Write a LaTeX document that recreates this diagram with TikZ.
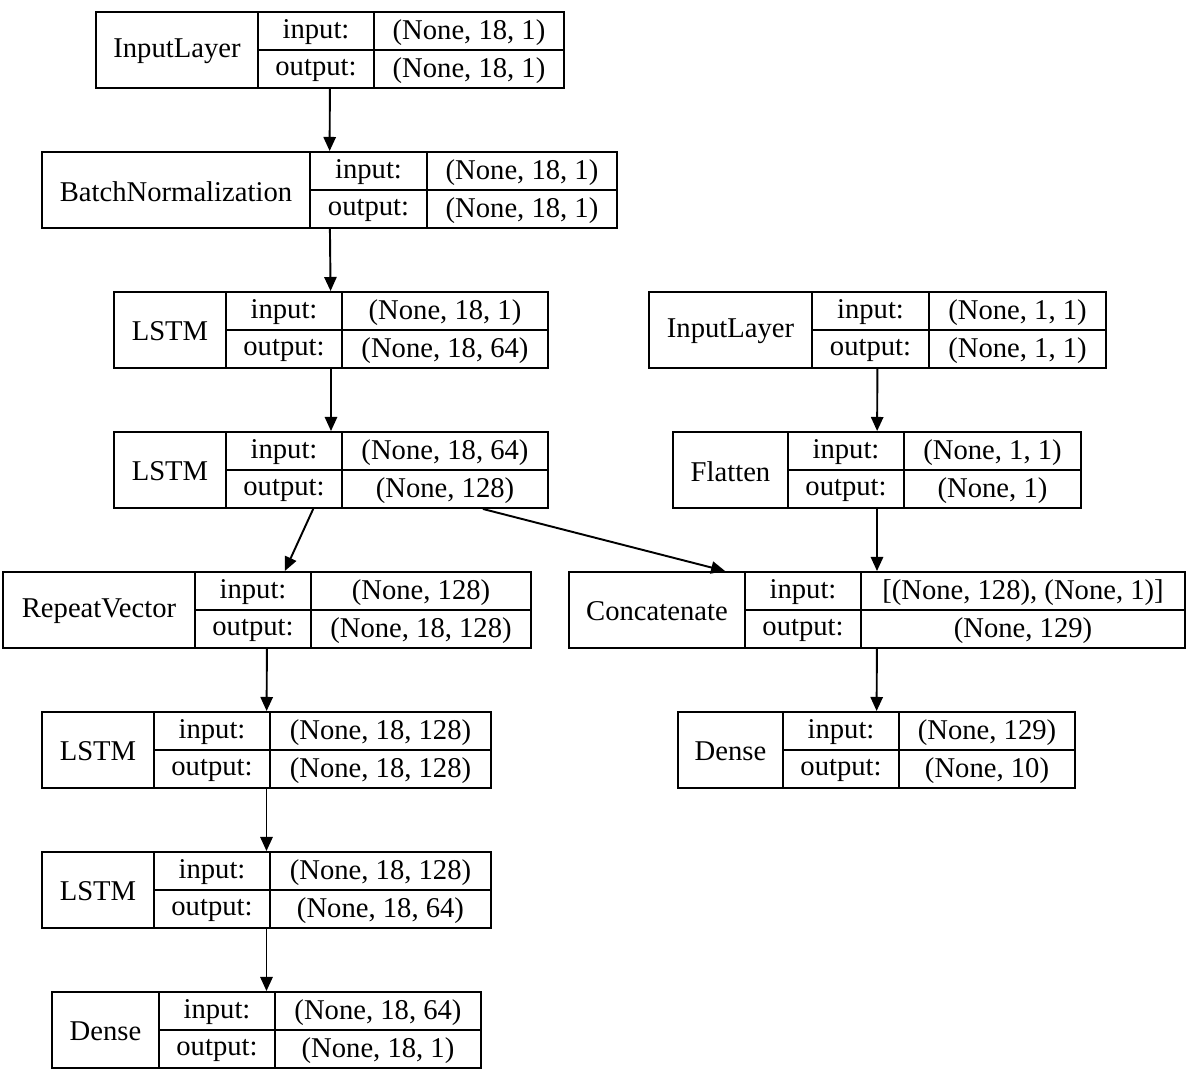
\documentclass[tikz,border=0pt]{standalone}
\usepackage{fontspec}
\setmainfont{Liberation Serif}
\usepackage{tikz}
\usetikzlibrary{arrows.meta, positioning, calc}

% one keras layer: id, left, top, split1, split2, right, title, input, output
\newcommand{\kerasbox}[9]{
  \node[layerbox, minimum width={(#6-#2)*0.02cm}] (#1) at ({(#2+#6)/2},{#3+38}) {};
  \draw[cellline] (#4,#3) -- (#4,{#3+76});
  \draw[cellline] (#5,#3) -- (#5,{#3+76});
  \draw[cellline] (#4,{#3+38}) -- (#6,{#3+38});
  \node[celltext] (#1-title) at ({(#2+#4)/2},{#3+39.5}) {#7};
  \node[celltext] (#1-inlabel) at ({(#4+#5)/2},{#3+20.5}) {input:};
  \node[celltext] (#1-outlabel) at ({(#4+#5)/2},{#3+58.5}) {output:};
  \node[celltext] (#1-in) at ({(#5+#6)/2},{#3+20.5}) {#8};
  \node[celltext] (#1-out) at ({(#5+#6)/2},{#3+58.5}) {#9};
}

\begin{document}
\begin{tikzpicture}[x=0.02cm, y=-0.02cm]

  \tikzset{
    layerbox/.style={
        shape=rectangle,
        draw=black,
        line width=1.1pt,
        fill=white,
        minimum height=1.52cm,
        inner sep=0pt
      },
    cellline/.style={line width=1.1pt},
    celltext/.style={font=\fontsize{16.3pt}{19pt}\selectfont, inner sep=0pt},
    flow/.style={line width=1.1pt, -{Triangle[length=8pt, width=7pt]}}
  }

  \fill[white] (0,0) rectangle (1204,1071);

  % left branch
  \kerasbox{inputA}{96}{12}{258}{374}{564}{InputLayer}{(None, 18, 1)}{(None, 18, 1)}
  \kerasbox{bnorm}{42}{152}{310}{427}{617}{BatchNormalization}{(None, 18, 1)}{(None, 18, 1)}
  \kerasbox{lstmA}{114}{292}{226}{342}{548}{LSTM}{(None, 18, 1)}{(None, 18, 64)}
  \kerasbox{lstmB}{114}{432}{226}{342}{548}{LSTM}{(None, 18, 64)}{(None, 128)}
  \kerasbox{repvec}{3}{572}{195}{311}{531}{RepeatVector}{(None, 128)}{(None, 18, 128)}
  \kerasbox{lstmC}{42}{712}{154}{270}{491}{LSTM}{(None, 18, 128)}{(None, 18, 128)}
  \kerasbox{lstmD}{42}{852}{154}{270}{491}{LSTM}{(None, 18, 128)}{(None, 18, 64)}
  \kerasbox{denseB}{52}{992}{159}{275}{481}{Dense}{(None, 18, 64)}{(None, 18, 1)}

  % right branch
  \kerasbox{inputB}{649}{292}{812}{929}{1106}{InputLayer}{(None, 1, 1)}{(None, 1, 1)}
  \kerasbox{flatten}{673}{432}{788}{904}{1081}{Flatten}{(None, 1, 1)}{(None, 1)}
  \kerasbox{concat}{569}{572}{745}{861}{1185}{Concatenate}{[(None, 128), (None, 1)]}{(None, 129)}
  \kerasbox{denseA}{678}{712}{783}{899}{1075}{Dense}{(None, 129)}{(None, 10)}

  \draw[flow] (inputA) -- (bnorm);
  \draw[flow] (bnorm) -- (lstmA);
  \draw[flow] (lstmA) -- (lstmB);
  \draw[flow] (lstmB) -- (repvec);
  \draw[flow] (lstmB) -- (concat);
  \draw[flow] (repvec) -- (lstmC);
  \draw[flow] (lstmC) -- (lstmD);
  \draw[flow] (lstmD) -- (denseB);
  \draw[flow] (inputB) -- (flatten);
  \draw[flow] (flatten) -- (concat);
  \draw[flow] (concat) -- (denseA);

\end{tikzpicture}
\end{document}
